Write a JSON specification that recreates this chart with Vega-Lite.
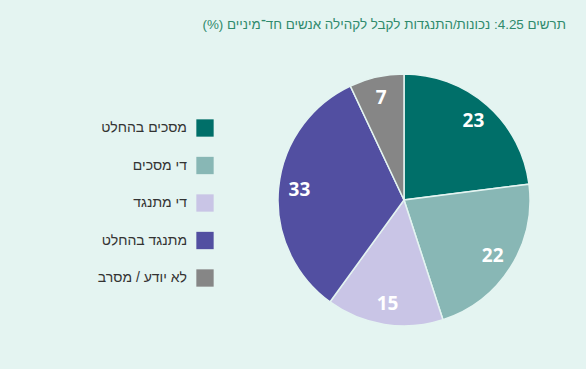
{
  "$schema": "https://vega.github.io/schema/vega-lite/v6.json",
  "autosize": {"type": "none"},
  "width": 348,
  "height": 252,
  "padding": {"left": 230, "top": 74, "right": 8, "bottom": 43},
  "background": "#e4f4f1",
  "title": {
    "text": "\u202Bתרשים 4.25: נכונות/התנגדות לקבל לקהילה אנשים חד־מיניים (%)\u202C",
    "anchor": "end",
    "dx": -12,
    "offset": 40,
    "font": "Liberation Sans",
    "fontSize": 13.4,
    "fontWeight": "normal",
    "color": "#2f8a6c"
  },
  "config": {"view": {"stroke": null}},
  "data": {
    "values": [
      {"category": "מסכים בהחלט", "value": 23, "order": 1},
      {"category": "די מסכים", "value": 22, "order": 2},
      {"category": "די מתנגד", "value": 15, "order": 3},
      {"category": "מתנגד בהחלט", "value": 33, "order": 4},
      {"category": "לא יודע / מסרב", "value": 7, "order": 5}
    ]
  },
  "encoding": {
    "theta": {"field": "value", "type": "quantitative", "stack": true},
    "order": {"field": "order", "type": "quantitative"}
  },
  "layer": [
    {
      "mark": {"type": "arc", "outerRadius": 126, "stroke": "#e4f4f1", "strokeWidth": 1.5},
      "encoding": {
        "color": {
          "field": "category",
          "type": "nominal",
          "sort": ["מסכים בהחלט", "די מסכים", "די מתנגד", "מתנגד בהחלט", "לא יודע / מסרב"],
          "scale": {
            "domain": ["מסכים בהחלט", "די מסכים", "די מתנגד", "מתנגד בהחלט", "לא יודע / מסרב"],
            "range": ["#006f69", "#88b7b5", "#c9c5e6", "#524fa1", "#868686"]
          },
          "legend": {
            "orient": "none",
            "legendX": -34,
            "legendY": 45,
            "title": null,
            "symbolType": "square",
            "symbolSize": 300,
            "symbolStrokeWidth": 0,
            "labelAlign": "right",
            "labelOffset": -27,
            "labelFont": "Liberation Sans",
            "labelFontSize": 14,
            "labelColor": "#333333",
            "rowPadding": 19.5,
            "labelLimit": 300
          }
        }
      }
    },
    {
      "mark": {"type": "text", "radius": 105, "font": "Open Sans", "fontWeight": "bold", "fontSize": 19, "fill": "white"},
      "encoding": {"text": {"field": "value", "type": "quantitative"}}
    }
  ]
}
